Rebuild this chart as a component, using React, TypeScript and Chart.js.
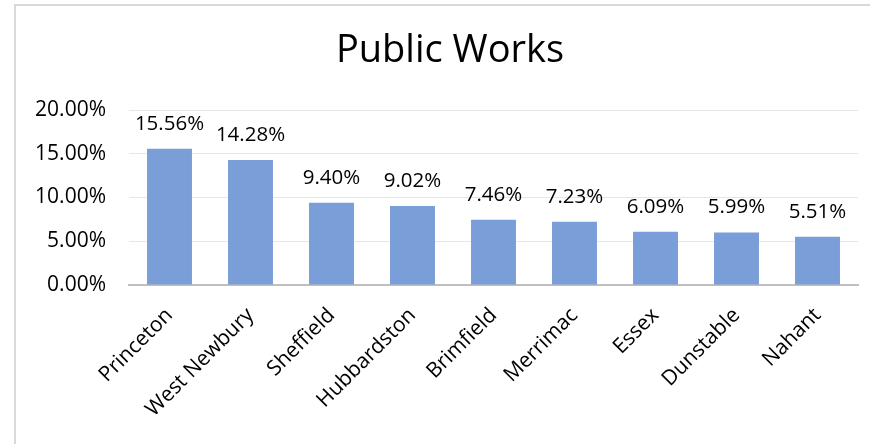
import React, { useEffect, useRef } from "react";
import { Chart, registerables } from "chart.js";

Chart.register(...registerables);

const categories = [
  "Princeton",
  "West Newbury",
  "Sheffield",
  "Hubbardston",
  "Brimfield",
  "Merrimac",
  "Essex",
  "Dunstable",
  "Nahant",
];
const values = [15.56, 14.28, 9.4, 9.02, 7.46, 7.23, 6.09, 5.99, 5.51];
const chartTitle = "Public Works";
const yMin = 0;
const yMax = 20;
const yStep = 5;

const FONT = "'Open Sans', sans-serif";

const labelPlugin = {
  id: "barLabels",
  afterLayout(chart: any) {
    // centre the title over the framed chart area like the reference
    if (chart.titleBlock) {
      chart.titleBlock.left += 42;
    }
  },
  afterDatasetsDraw(chart: any) {
    const ctx = chart.ctx;
    const meta = chart.getDatasetMeta(0);
    ctx.save();
    ctx.font = `20.5px ${FONT}`;
    ctx.fillStyle = "#000";
    ctx.textAlign = "center";
    ctx.textBaseline = "middle";
    meta.data.forEach((el: any, i: number) => {
      ctx.fillText(values[i].toFixed(2) + "%", el.x, el.y - 25);
    });
    ctx.restore();
  },
};

export default function App() {
  const ref = useRef<HTMLCanvasElement | null>(null);
  useEffect(() => {
    if (!ref.current) return;
    const chart = new Chart(ref.current, {
      type: "bar",
      data: {
        labels: categories,
        datasets: [
          {
            data: values,
            backgroundColor: "#7A9ED8",
            categoryPercentage: 1,
            barPercentage: 0.555,
          },
        ],
      },
      options: {
        responsive: false,
        animation: false,
        layout: { padding: { left: 0, right: 12, top: 0, bottom: 0 } },
        plugins: {
          legend: { display: false },
          tooltip: { enabled: false },
          title: {
            display: true,
            text: chartTitle,
            color: "#000",
            font: { family: FONT, size: 38, weight: "normal" },
            padding: { top: 28, bottom: 36.4 },
          },
        },
        scales: {
          x: {
            grid: { display: false, drawTicks: false },
            border: { display: true, color: "#bfbfbf", width: 2 },
            ticks: {
              autoSkip: false,
              maxRotation: 45,
              minRotation: 45,
              padding: 18,
              color: "#000",
              font: { family: FONT, size: 21 },
            },
            afterFit: (s: any) => {
              s.height = 159;
            },
          },
          y: {
            min: yMin,
            max: yMax,
            grid: { color: "#e6e6e6", drawTicks: false },
            border: { display: false },
            ticks: {
              stepSize: yStep,
              padding: 23,
              color: "#000",
              font: { family: FONT, size: 21 },
              callback: (v: any) => Number(v).toFixed(2) + "%",
            },
            afterFit: (s: any) => {
              s.width = 129;
            },
          },
        },
      },
      plugins: [labelPlugin],
    });
    return () => chart.destroy();
  }, []);

  return (
    <div
      style={{
        position: "fixed",
        left: 0,
        top: 0,
        width: 870,
        height: 444,
        overflow: "hidden",
        background: "#fff",
      }}
    >
      <div
        style={{
          position: "absolute",
          left: 14,
          top: 4,
          width: 900,
          height: 500,
          border: "2px solid #d9d9d9",
        }}
      />
      <canvas
        ref={ref}
        width={870}
        height={444}
        style={{ position: "absolute", left: 0, top: 0, width: 870, height: 444 }}
      />
    </div>
  );
}
